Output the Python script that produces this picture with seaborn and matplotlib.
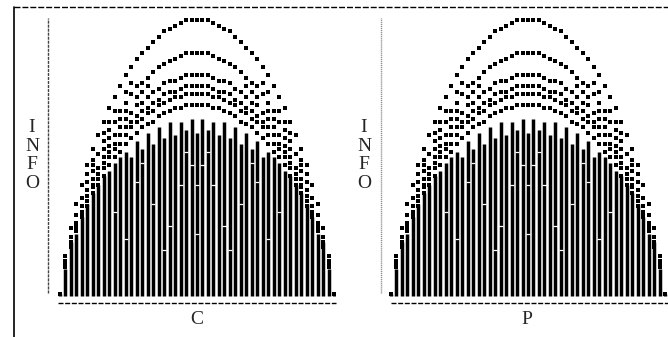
import matplotlib

matplotlib.use("Agg")
import matplotlib.pyplot as plt
import pandas as pd
import seaborn as sns
from matplotlib.lines import Line2D

# grid of the x variable (C in the left panel, P in the right one)
x_values = [0.00, 0.02, 0.04, 0.06, 0.08, 0.10, 0.12, 0.14, 0.16, 0.18,
            0.20, 0.22, 0.24, 0.26, 0.28, 0.30, 0.32, 0.34, 0.36, 0.38,
            0.40, 0.42, 0.44, 0.46, 0.48, 0.50, 0.52, 0.54, 0.56, 0.58,
            0.60, 0.62, 0.64, 0.66, 0.68, 0.70, 0.72, 0.74, 0.76, 0.78,
            0.80, 0.82, 0.84, 0.86, 0.88, 0.90, 0.92, 0.94, 0.96, 0.98, 1.00]

# point rows (arcs), INFO values per column
arc_top = [0, .14, .24, .33, .40, .47, .53, .58, .63, .68, .72, .76, .80, .83, .86, .88, .90, .92, .94, .96, .97, .98, .99, 1.0, 1.0, 1.0,
           1.0, 1.0, .99, .98, .97, .96, .94, .92, .90, .88, .86, .83, .80, .76, .72, .68, .63, .58, .53, .47, .40, .33, .24, .14, 0]
arc_2 = [0, .12, .21, .29, .35, .41, .47, .51, .56, .60, .63, .67, .70, .73, .76, .77, .79, .81, .83, .84, .85, .86, .87, .88, .88, .88,
         .88, .88, .87, .86, .85, .84, .83, .81, .79, .77, .76, .73, .70, .67, .63, .60, .56, .51, .47, .41, .35, .29, .21, .12, 0]
arc_3 = [0, .11, .19, .26, .32, .38, .42, .46, .50, .54, .58, .61, .64, .66, .69, .70, .72, .74, .75, .77, .78, .78, .79, .80, .80, .80,
         .80, .80, .79, .78, .78, .77, .75, .74, .72, .70, .69, .66, .64, .61, .58, .54, .50, .46, .42, .38, .32, .26, .19, .11, 0]
arc_4 = [0, .11, .18, .25, .30, .36, .40, .44, .48, .52, .55, .58, .61, .63, .65, .67, .68, .70, .71, .73, .74, .74, .75, .76, .76, .76,
         .76, .76, .75, .74, .74, .73, .71, .70, .68, .67, .65, .63, .61, .58, .55, .52, .48, .44, .40, .36, .30, .25, .18, .11, 0]
arc_5 = [0, .10, .18, .24, .29, .34, .39, .42, .46, .50, .53, .55, .58, .61, .63, .64, .66, .67, .69, .70, .71, .72, .72, .73, .73, .73,
         .73, .73, .72, .72, .71, .70, .69, .67, .66, .64, .63, .61, .58, .55, .53, .50, .46, .42, .39, .34, .29, .24, .18, .10, 0]
arc_6 = [0, .10, .17, .23, .28, .32, .37, .40, .43, .47, .50, .52, .55, .57, .59, .61, .62, .63, .65, .66, .67, .68, .68, .69, .69, .69,
         .69, .69, .68, .68, .67, .66, .65, .63, .62, .61, .59, .57, .55, .52, .50, .47, .43, .40, .37, .32, .28, .23, .17, .10, 0]
# loose points on the shoulders (None = no point in that column)
arc_7 = ([None] * 5 + [.44, .49, None, .59, .63, .67, None, .74, .77] + [None] * 23
         + [.77, .74, None, .67, .63, .59, None, .49, .44] + [None] * 5)
arc_8 = ([None] * 6 + [.45, None, .53, .57, None, .64, .67, None, .72, .74, .76] + [None] * 17
         + [.76, .74, .72, None, .67, .64, None, .57, .53, None, .45] + [None] * 6)

# height up to which the points merge into a solid column
bar_top = [0, .09, .19, .22, .28, .33, .37, .40, .43, .45, .48, .50, .52, .50, .56, .53, .59, .55, .61, .57, .63, .58, .63, .60, .64, .59,
           .64, .60, .63, .58, .63, .57, .61, .55, .59, .53, .56, .50, .52, .50, .48, .45, .43, .40, .37, .33, .28, .22, .19, .09, 0]

# white breaks inside the solid columns (x, INFO)
gap_x = [0.50, 0.40, 0.60, 0.34, 0.66, 0.28, 0.72, 0.44, 0.56, 0.20, 0.80, 0.48, 0.52,
         0.46, 0.54, 0.38, 0.62, 0.30, 0.70, 0.24, 0.76, 0.50]
gap_y = [0.22, 0.25, 0.25, 0.33, 0.33, 0.41, 0.41, 0.40, 0.40, 0.30, 0.30, 0.47, 0.47,
         0.52, 0.52, 0.16, 0.16, 0.48, 0.48, 0.20, 0.20, 0.40]

panel_labels = ["C", "P"]
info_letters = ["I", "N", "F", "O"]

arcs = {"top": arc_top, "a2": arc_2, "a3": arc_3, "a4": arc_4, "a5": arc_5,
        "a6": arc_6, "a7": arc_7, "a8": arc_8}
points = pd.concat(
    [pd.DataFrame({"x": x_values, "INFO": v, "arc": k}) for k, v in arcs.items()],
    ignore_index=True,
).dropna()
points["INFO"] = points["INFO"].astype(float)

sns.set_style("white")
plt.rcParams["font.family"] = ["Liberation Serif", "DejaVu Serif"]

W, H = 668, 337
fig = plt.figure(figsize=(W / 100, H / 100), dpi=100)

# outer frame: dashed top, solid left
fig.add_artist(Line2D([14 / W, 1], [1 - 7 / H] * 2, color="black", lw=1, ls=(0, (4.3, 1.4))))
fig.add_artist(Line2D([14 / W] * 2, [0, 1 - 7 / H], color="black", lw=1.2))

# (left px, width px, x-limits, label x px, info label x px, axis line colour, style)
panels = [
    (48, 288, (-0.0438, 1.0073), 197, 32, "#444444", (0, (2.2, 0.7))),
    (381, 287, (-0.0365, 1.011), 527, 364, "#888888", (0, (0.8, 0.6))),
]
top_px, bot_px = 18, 303
ylim = (-0.0329, 1.009)

for label, (lpx, wpx, xlim, lab_x, info_x, ycol, yls) in zip(panel_labels, panels):
    ax = fig.add_axes([lpx / W, 1 - bot_px / H, wpx / W, (bot_px - top_px) / H])
    ax.vlines(x_values, -0.007, bar_top, color="black", lw=2.5)
    ax.hlines(gap_y, [g - 0.008 for g in gap_x], [g + 0.008 for g in gap_x], color="white", lw=0.9)
    sns.scatterplot(
        data=points, x="x", y="INFO", marker="s", s=5.5, color="black",
        linewidth=0, ax=ax, legend=False,
    )
    ax.set_xlim(*xlim)
    ax.set_ylim(*ylim)
    ax.set_axis_off()
    ax.axvline(xlim[0], ymin=0.035, ymax=1, color=ycol, lw=1, ls=yls, clip_on=False)
    ax.axhline(ylim[0], xmin=0.035, xmax=1, color="black", lw=1, ls=(0, (3.6, 1.2)), clip_on=False)

    fig.text(lab_x / W, 1 - 319 / H, label, ha="center", va="center", fontsize=14)
    for letter, ypx in zip(info_letters, [127, 146, 165, 184]):
        fig.text(info_x / W, 1 - ypx / H, letter, ha="center", va="center", fontsize=14)

fig.savefig("out.png", dpi=100)
